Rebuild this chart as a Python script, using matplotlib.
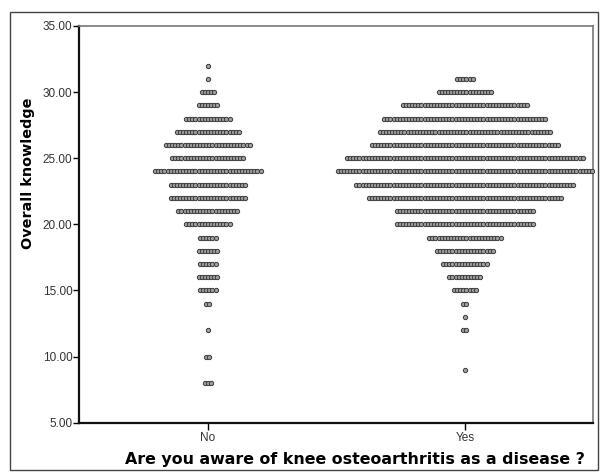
"""Dot plot (SPSS style): overall knowledge by awareness of knee OA."""
import matplotlib
matplotlib.use("Agg")
import matplotlib.pyplot as plt
from matplotlib.patches import Rectangle

# knowledge score levels and number of respondents per level
scores = [32, 31, 30, 29, 28, 27, 26, 25, 24, 23, 22, 21, 20,
          19, 18, 17, 16, 15, 14, 13, 12, 11, 10, 9, 8]
counts_no = [1, 1, 5, 7, 15, 21, 28, 24, 35, 25, 25, 20, 15,
             6, 7, 6, 7, 6, 2, 0, 1, 0, 2, 0, 3]
counts_yes = [0, 6, 18, 41, 53, 56, 61, 77, 83, 71, 63, 45, 45,
              24, 19, 15, 11, 8, 2, 1, 2, 0, 0, 1, 0]
groups = ["No", "Yes"]
yticks = [5, 10, 15, 20, 25, 30, 35]

fig = plt.figure(figsize=(6.02, 4.76), dpi=100)
ax = fig.add_axes([0.1317, 0.112, 0.854, 0.8334])

dx = 0.01206  # horizontal step between stacked dots
for g, counts in enumerate([counts_no, counts_yes]):
    xs, ys = [], []
    for s, n in zip(scores, counts):
        for i in range(n):
            xs.append(g + (i - (n - 1) / 2) * dx)
            ys.append(s)
    ax.plot(xs, ys, "o", ms=3.1, mfc="#a0a0a0", mec="#3a3a3a", mew=0.7,
            clip_on=False, zorder=3)

ax.set_xlim(-0.5, 1.5)
ax.set_ylim(5, 35)
ax.set_xticks([0, 1])
ax.set_xticklabels(groups)
ax.set_yticks(yticks)
ax.set_yticklabels([f"{v:.2f}" for v in yticks])
ax.tick_params(axis="both", labelsize=8.5, labelcolor="#333333",
               length=4, width=1, direction="out", pad=1,
               labelfontfamily="Liberation Sans")
ax.tick_params(axis="x", length=5, pad=2)

for side in ["left", "bottom"]:
    ax.spines[side].set_linewidth(1.6)
    ax.spines[side].set_color("#111111")
for side in ["top", "right"]:
    ax.spines[side].set_linewidth(1.2)
    ax.spines[side].set_color("#777777")

ax.set_xlabel("Are you aware of knee osteoarthritis as a disease ?",
              fontsize=11.4, fontweight="bold")
ax.xaxis.set_label_coords(0.537, -0.075)
ax.set_ylabel("Overall knowledge", fontsize=10.4, fontweight="bold")
ax.yaxis.set_label_coords(-0.087, 0.63)

# outer frame round the whole chart
fig.patches.append(Rectangle((10 / 602, 6 / 476), 588 / 602, 458 / 476,
                             transform=fig.transFigure, fill=False,
                             edgecolor="#444444", linewidth=1.0))

fig.savefig("out.png", dpi=100)
